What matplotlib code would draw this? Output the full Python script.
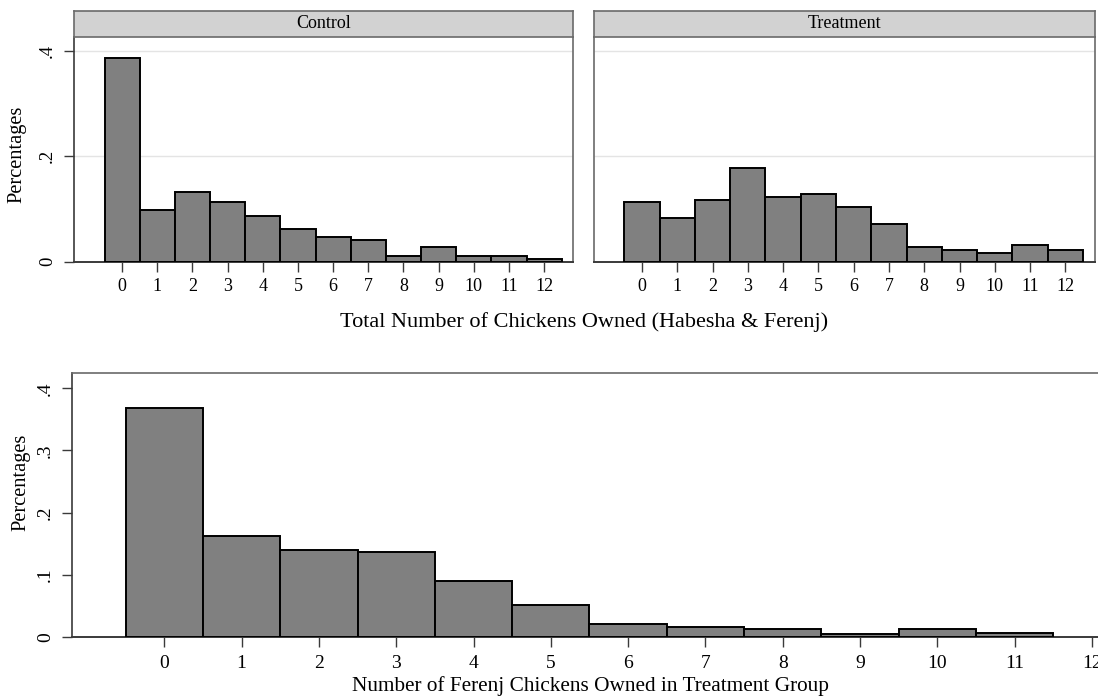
import matplotlib
matplotlib.use("Agg")
import matplotlib.pyplot as plt
import numpy as np

# Data
chicken_counts = list(range(13))
control_pct = [0.386, 0.098, 0.133, 0.113, 0.087, 0.062, 0.046, 0.042, 0.011, 0.027, 0.011, 0.011, 0.006]
treatment_pct = [0.113, 0.082, 0.117, 0.178, 0.123, 0.128, 0.103, 0.072, 0.027, 0.022, 0.016, 0.032, 0.022]
ferenj_counts = list(range(12))
ferenj_pct = [0.368, 0.162, 0.140, 0.136, 0.089, 0.051, 0.020, 0.016, 0.012, 0.005, 0.012, 0.006]
panel_titles = ["Control", "Treatment"]
top_yticks = [0, 0.2, 0.4]
top_yticklabels = ["0", ".2", ".4"]
bottom_yticks = [0, 0.1, 0.2, 0.3, 0.4]
bottom_yticklabels = ["0", ".1", ".2", ".3", ".4"]

plt.rcParams['font.family'] = ['Liberation Serif', 'DejaVu Serif']

W, H = 1098, 700
fig = plt.figure(figsize=(W / 100, H / 100), dpi=100)

def px_axes(x0, x1, ytop, ybot):
    return fig.add_axes([x0 / W, 1 - ybot / H, (x1 - x0) / W, (ybot - ytop) / H])

BAR = '#808080'
FRAME = '#6a6a6a'
AXIS = '#3a3a3a'

def style_top(ax, vals, show_y):
    ax.bar(chicken_counts, vals, width=1.0, color=BAR, edgecolor='black', linewidth=1.4, zorder=3)
    ax.set_xlim(-1.36, 12.83)
    ax.set_ylim(0, 0.4265)
    for g in [0.2, 0.4]:
        ax.axhline(g, color='#e4e4e4', lw=1.0, zorder=1)
    ax.set_xticks(chicken_counts)
    ax.set_xticklabels([str(c) for c in chicken_counts], fontsize=13)
    ax.tick_params(axis='x', length=7, width=1, color=AXIS, pad=5)
    for s in ['top', 'left', 'right']:
        ax.spines[s].set_color(FRAME)
        ax.spines[s].set_linewidth(1.2)
    ax.spines['top'].set_visible(False)
    ax.spines['bottom'].set_color(AXIS)
    ax.spines['bottom'].set_linewidth(1.4)
    if show_y:
        ax.spines['left'].set_color(AXIS)
        ax.set_yticks(top_yticks)
        ax.set_yticklabels(top_yticklabels, fontsize=13.5, rotation=90, va='center')
        ax.tick_params(axis='y', length=7, width=1, color=AXIS, pad=6)
    else:
        ax.set_yticks([])

# top panels
axC = px_axes(74.3, 573.3, 36.7, 261.7)
style_top(axC, control_pct, True)
axT = px_axes(594, 1094.7, 36.7, 261.7)
style_top(axT, treatment_pct, False)

for (x0, x1), title in zip([(74.3, 573.3), (594, 1094.7)], panel_titles):
    s = px_axes(x0, x1, 11, 36.7)
    s.set_facecolor('#d2d2d2')
    s.set_xticks([]); s.set_yticks([])
    for sp in s.spines.values():
        sp.set_color(FRAME)
        sp.set_linewidth(1.2)
    s.text(0.5, 0.5, title, transform=s.transAxes, ha='center', va='center', fontsize=13)

fig.text(17 / W, 1 - 154 / H, "Percentages", rotation=90, ha='center', va='center', fontsize=14.7)
fig.text(584 / W, 1 - 322 / H, "Total Number of Chickens Owned (Habesha & Ferenj)", ha='center', va='center', fontsize=16)

# bottom panel
axB = px_axes(72.3, 1110, 373.3, 636.7)
axB.bar(ferenj_counts, ferenj_pct, width=1.0, color=BAR, edgecolor='black', linewidth=1.4, zorder=3)
unit = (1092 - 164.3) / 12
axB.set_xlim((72.3 - 164.3) / unit, 12 + (1110 - 1092) / unit)
axB.set_ylim(0, 0.4 + (388.3 - 373.3) / 617)
axB.set_xticks(chicken_counts)
axB.set_xticklabels([str(c) for c in chicken_counts], fontsize=14)
axB.set_yticks(bottom_yticks)
axB.set_yticklabels(bottom_yticklabels, fontsize=14, rotation=90, va='center')
axB.tick_params(axis='both', length=7, width=1, color=AXIS, pad=6)
axB.spines['top'].set_color(FRAME)
axB.spines['top'].set_linewidth(1.2)
axB.spines['right'].set_visible(False)
axB.spines['left'].set_color(AXIS)
axB.spines['left'].set_linewidth(1.2)
axB.spines['bottom'].set_color(AXIS)
axB.spines['bottom'].set_linewidth(1.4)

fig.text(21 / W, 1 - 482 / H, "Percentages", rotation=90, ha='center', va='center', fontsize=14.7)
fig.text(590 / W, 1 - 686 / H, "Number of Ferenj Chickens Owned in Treatment Group", ha='center', va='center', fontsize=15.3)

fig.savefig("out.png", dpi=100)
